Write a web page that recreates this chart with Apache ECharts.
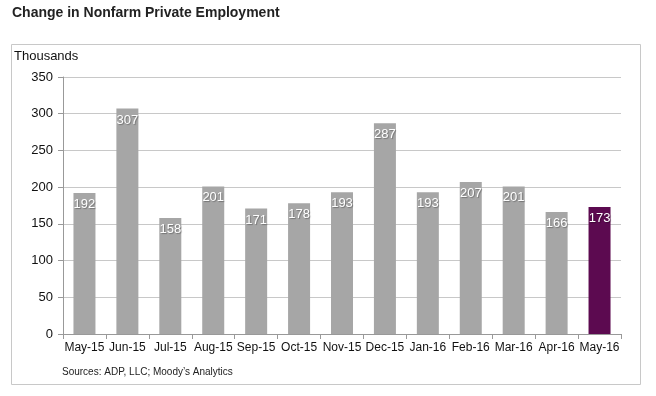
<!DOCTYPE html>
<html>
<head>
<meta charset="utf-8">
<script src="https://cdn.jsdelivr.net/npm/echarts@6/dist/echarts.min.js"></script>
<style>
  html, body { margin: 0; padding: 0; background: #fff; }
  #chart { width: 656px; height: 396px; }
</style>
</head>
<body>
<div id="chart"></div>
<script>
// data
var months = ["May-15", "Jun-15", "Jul-15", "Aug-15", "Sep-15", "Oct-15", "Nov-15",
  "Dec-15", "Jan-16", "Feb-16", "Mar-16", "Apr-16", "May-16"];
var jobs = [192, 307, 158, 201, 171, 178, 193, 287, 193, 207, 201, 166, 173];

var grey = "#a6a6a6";
var purple = "#5c0a50";

var chart = echarts.init(document.getElementById("chart"), null, { renderer: "canvas" });

chart.setOption({
  animation: false,
  backgroundColor: "#fff",
  textStyle: { fontFamily: "Liberation Sans, Arial, sans-serif" },
  graphic: [
    {
      type: "rect",
      shape: { x: 11.5, y: 44.5, width: 629, height: 340 },
      style: { fill: "none", stroke: "#c8c8c8", lineWidth: 1 }
    },
    {
      type: "text",
      left: 12, top: 6,
      style: { text: "Change in Nonfarm Private Employment", font: "bold 14px Liberation Sans, Arial, sans-serif", fill: "#222" }
    },
    {
      type: "text",
      left: 14, top: 50,
      style: { text: "Thousands", font: "13px Liberation Sans, Arial, sans-serif", fill: "#111" }
    },
    {
      type: "text",
      left: 62, top: 367,
      style: { text: "Sources: ADP, LLC; Moody\u2019s Analytics", font: "10px Liberation Sans, Arial, sans-serif", fill: "#222" }
    }
  ],
  grid: { left: 63, right: 35, top: 77, bottom: 62 },
  xAxis: {
    type: "category",
    data: months,
    axisLine: { lineStyle: { color: "#999" } },
    axisTick: { show: true, length: 5, lineStyle: { color: "#999" } },
    axisLabel: { color: "#111", fontSize: 12, margin: 8, interval: 0 }
  },
  yAxis: {
    type: "value",
    min: 0, max: 350, interval: 50,
    axisLine: { show: true, lineStyle: { color: "#999" } },
    axisTick: { show: true, length: 5, lineStyle: { color: "#999" } },
    axisLabel: { color: "#111", fontSize: 13, margin: 10 },
    splitLine: { lineStyle: { color: "#c8c8c8" } }
  },
  series: [{
    type: "bar",
    data: jobs.map(function (v, i) {
      return { value: v, itemStyle: { color: i === jobs.length - 1 ? purple : grey } };
    }),
    barWidth: 22,
    label: {
      show: true,
      position: "insideTop",
      distance: 5,
      color: "#fff",
      fontSize: 13,
      textShadowColor: "rgba(0,0,0,0.3)",
      textShadowBlur: 1,
      textShadowOffsetX: 1,
      textShadowOffsetY: 1
    }
  }]
});
</script>
</body>
</html>
